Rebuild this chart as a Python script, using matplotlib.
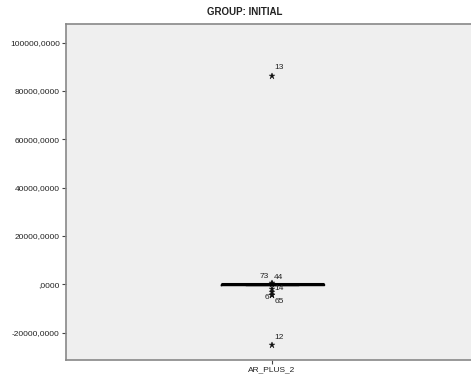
import matplotlib
matplotlib.use("Agg")
import matplotlib.pyplot as plt
from matplotlib.ticker import FuncFormatter

# ---- data ----
categories = ["AR_PLUS_2"]
box_q1 = [-150.0]
box_median = [0.0]
box_q3 = [150.0]
whisker_low = [-300.0]
whisker_high = [300.0]
outlier_ids = ["13", "73", "44", "14", "", "6", "65", "12"]
outlier_values = [86400, 400, 150, -1800, -3200, -4300, -4500, -25000]
yticks = [-20000, 0, 20000, 40000, 60000, 80000, 100000]
title = "GROUP: INITIAL"

# ---- style ----
label_offsets = {"13": (2, 5.5, "left"), "73": (-2.5, 5, "right"), "44": (1.5, 4.5, "left"),
                 "14": (1.5, 0, "left"), "6": (-2, -2, "right"), "65": (2, -4.5, "left"),
                 "12": (2, 5.5, "left"), "": (0, 0, "left")}

plt.rcParams['font.family'] = ['Liberation Sans', 'DejaVu Sans']

W, H = 471, 381
fig = plt.figure(figsize=(W / 100, H / 100), dpi=100)
left, right, top, bottom = 66, 478, 24, 360
ax = fig.add_axes([left / W, 1 - bottom / H, (right - left) / W, (bottom - top) / H])
ax.set_facecolor("#EFEFEF")

stats = []
for i, c in enumerate(categories):
    stats.append(dict(label=c, med=box_median[i], q1=box_q1[i], q3=box_q3[i],
                      whislo=whisker_low[i], whishi=whisker_high[i], fliers=[]))
ax.bxp(stats, positions=[1], widths=0.25, showfliers=False,
       boxprops=dict(color="black", linewidth=1),
       whiskerprops=dict(color="black", linewidth=1),
       capprops=dict(color="black", linewidth=1),
       medianprops=dict(color="black", linewidth=2.2))

xs = [1] * len(outlier_values)
ax.plot(xs, outlier_values, linestyle="none", marker="*", markersize=4.5,
        color="#111111", markeredgewidth=0.3)
for lab, v in zip(outlier_ids, outlier_values):
    if not lab:
        continue
    dx, dy, ha = label_offsets[lab]
    ax.annotate(lab, (1, v), xytext=(dx, dy), textcoords="offset points",
                ha=ha, va="center", fontsize=6, color="#222222")

ax.set_xlim(0.5, 1.5)
ax.set_ylim(-31350, 107740)
ax.set_yticks(yticks)
ax.yaxis.set_major_formatter(FuncFormatter(
    lambda v, p: ("%.4f" % v).replace(".", ",").lstrip("0") if v != 0 else ",0000"))
ax.set_xticks([1])
ax.set_xticklabels(categories)
ax.tick_params(axis="both", labelsize=6, length=3, width=0.8, color="#444444",
               labelcolor="#222222", pad=1.5)

for s in ["left", "bottom", "top"]:
    ax.spines[s].set_color("#888888")
    ax.spines[s].set_linewidth(1.2)
ax.spines["right"].set_visible(False)

fig.text(245 / W, 1 - 12 / H, title, ha="center", va="center",
         fontsize=7, fontweight="bold", color="#222222")

fig.savefig("out.png", dpi=100)
